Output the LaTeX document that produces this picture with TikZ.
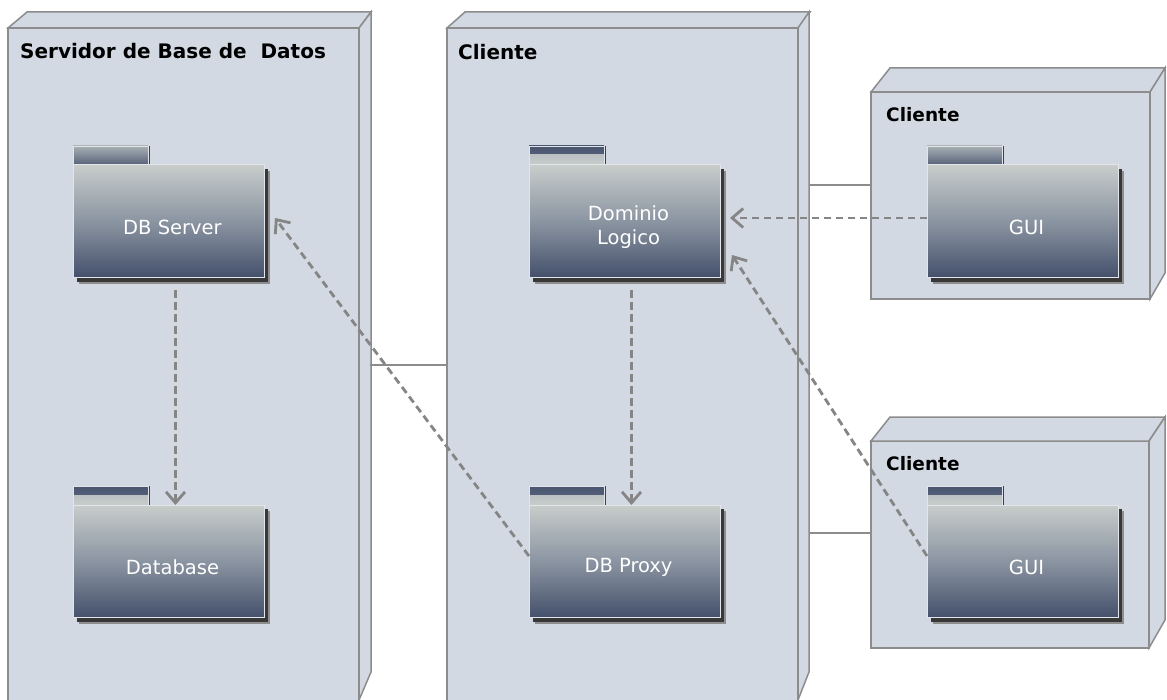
\documentclass[tikz,border=0pt]{standalone}
\usepackage{fontspec}
\setmainfont{DejaVu Sans}
\usetikzlibrary{arrows.meta,calc}

\definecolor{devfill}{HTML}{D2D9E3}
\definecolor{devline}{HTML}{8C8C8C}
\definecolor{pkgtop}{HTML}{C8CDCB}
\definecolor{pkgmid}{HTML}{8B95A2}
\definecolor{pkgbot}{HTML}{45516C}
\definecolor{pkgedge}{HTML}{E2E6EA}
\definecolor{tablight}{HTML}{A9B0B4}
\definecolor{tabdark}{HTML}{55617A}
\definecolor{bandtop}{HTML}{4A5670}
\definecolor{bandlow}{HTML}{BBC1C3}
\definecolor{depline}{HTML}{858585}
\definecolor{shadowin}{HTML}{383838}
\definecolor{shadowout}{HTML}{8E8E8E}

\tikzset{
  device/.style={draw=devline, fill=devfill, line width=1.5bp, inner sep=0pt, outer sep=0pt, anchor=north west},
  devface/.style={draw=devline, fill=devfill, line width=1.5bp, line join=miter},
  devtitle/.style={font=\bfseries\fontsize{#1bp}{#1bp}\selectfont, anchor=base west, inner sep=0pt},
  pkgbody/.style={draw=pkgedge, line width=1bp, top color=pkgtop, bottom color=pkgbot, middle color=pkgmid,
    minimum width=191bp, minimum height=112bp, inner sep=0pt, outer sep=0pt, anchor=north west},
  pkgtext/.style={text=white, font=\fontsize{19.5bp}{24bp}\selectfont, align=center, inner sep=0pt},
  tabplain/.style={draw=pkgedge, line width=0.8bp, top color=tablight, bottom color=tabdark},
  link/.style={draw=devline, line width=2bp},
  dep/.style={draw=depline, line width=2.8bp, dash pattern=on 7.5bp off 4.5bp,
    -{Straight Barb[length=11bp,width=19bp]}}
}

% package symbol: #1 name, #2 x, #3 y of tab top, #4 label, #5 1 = banded tab
\newcommand\pkgsym[5]{%
  \fill[shadowout] (#2+6,#3+25) rectangle (#2+197,#3+138);
  \fill[shadowin] (#2+4,#3+23) rectangle (#2+195,#3+136);
  \fill[black!75] (#2+75,#3) rectangle (#2+77,#3+19);
  \ifnum#5=1
    \shade[top color=bandtop, bottom color=tabdark!80!bandtop] (#2,#3) rectangle (#2+75,#3+9);
    \shade[top color=bandlow, bottom color=pkgtop] (#2,#3+9) rectangle (#2+75,#3+19);
    \draw[pkgedge, line width=0.8bp] (#2,#3) rectangle (#2+75,#3+19);
  \else
    \draw[tabplain] (#2,#3) rectangle (#2+75,#3+19);
  \fi
  \node[pkgbody] (#1) at (#2,#3+19) {};
  \node[pkgtext] (#1-t) at ($(#1.center)+(4,6)$) {#4};
}

\begin{document}
\begin{tikzpicture}[x=1bp, y=-1bp]
\useasboundingbox (0,0) rectangle (1167,700);
\fill[white] (0,0) rectangle (1167,700);
\clip (0,0) rectangle (1167,700);

% ---- nodes (devices) ----
\node[device, minimum width=351bp, minimum height=684bp] (srv) at (8,28) {};
\draw[devface] (srv.north west) -- ++(19,-16) -- ++(344,0) -- (srv.north east) -- cycle;
\draw[devface] (srv.north east) -- ++(12,-16) -- (371,672) -- (359,700) -- cycle;
\node[devtitle=20] (srv-t) at (20,59) {Servidor de Base de\hspace{0.35em} Datos};

\node[device, minimum width=351bp, minimum height=684bp] (cli) at (447,28) {};
\draw[devface] (cli.north west) -- ++(18,-16) -- ++(345,0) -- (cli.north east) -- cycle;
\draw[devface] (cli.north east) -- ++(11,-16) -- (809,672) -- (798,700) -- cycle;
\node[devtitle=20] (cli-t) at (458,60) {Cliente};

\node[device, minimum width=279bp, minimum height=207bp] (cli1) at (871,92) {};
\draw[devface] (cli1.north west) -- ++(19,-24) -- ++(275,0) -- (cli1.north east) -- cycle;
\draw[devface] (cli1.north east) -- ++(15,-24) -- (1165,273) -- (cli1.south east) -- cycle;
\node[devtitle=18.5] (cli1-t) at (886,122) {Cliente};

\node[device, minimum width=278bp, minimum height=207bp] (cli2) at (871,441) {};
\draw[devface] (cli2.north west) -- ++(19,-24) -- ++(275,0) -- (cli2.north east) -- cycle;
\draw[devface] (cli2.north east) -- ++(16,-24) -- (1165,620) -- (cli2.south east) -- cycle;
\node[devtitle=18.5] (cli2-t) at (886,470) {Cliente};

% ---- links between devices ----
\draw[link] ([xshift=11bp,yshift=5bp]srv.east) -- ([yshift=5bp]cli.west);
\coordinate (cliside1) at (809,185);
\coordinate (cliside2) at (809,533);
\draw[link] (cliside1) -- (cliside1 -| cli1.west);
\draw[link] (cliside2) -- (cliside2 -| cli2.west);

% ---- packages ----
\pkgsym{dbs}{73}{146}{DB Server}{0}
\pkgsym{db}{73}{486}{Database}{1}
\pkgsym{dom}{529}{146}{Dominio\\Logico}{1}
\pkgsym{prx}{529}{486}{DB Proxy}{1}
\pkgsym{gui1}{927}{146}{GUI}{0}
\pkgsym{gui2}{927}{486}{GUI}{1}

% ---- dependencies ----
\draw[dep] ($(dbs.south)+(7,13)$) -- ($(db.north)+(7,0)$);
\draw[dep] ($(dom.south)+(7,13)$) -- ($(prx.north)+(7,0)$);
\draw[dep] ($(gui1.west)+(0,-3)$) -- ($(dom.east)+(10,-3)$);
\draw[dep] ($(gui2.west)+(0,-5)$) -- ($(dom.south east)+(12,-22)$);
\draw[dep] ($(prx.west)+(0,-5)$) -- ($(dbs.east)+(11,-3)$);
\end{tikzpicture}
\end{document}
